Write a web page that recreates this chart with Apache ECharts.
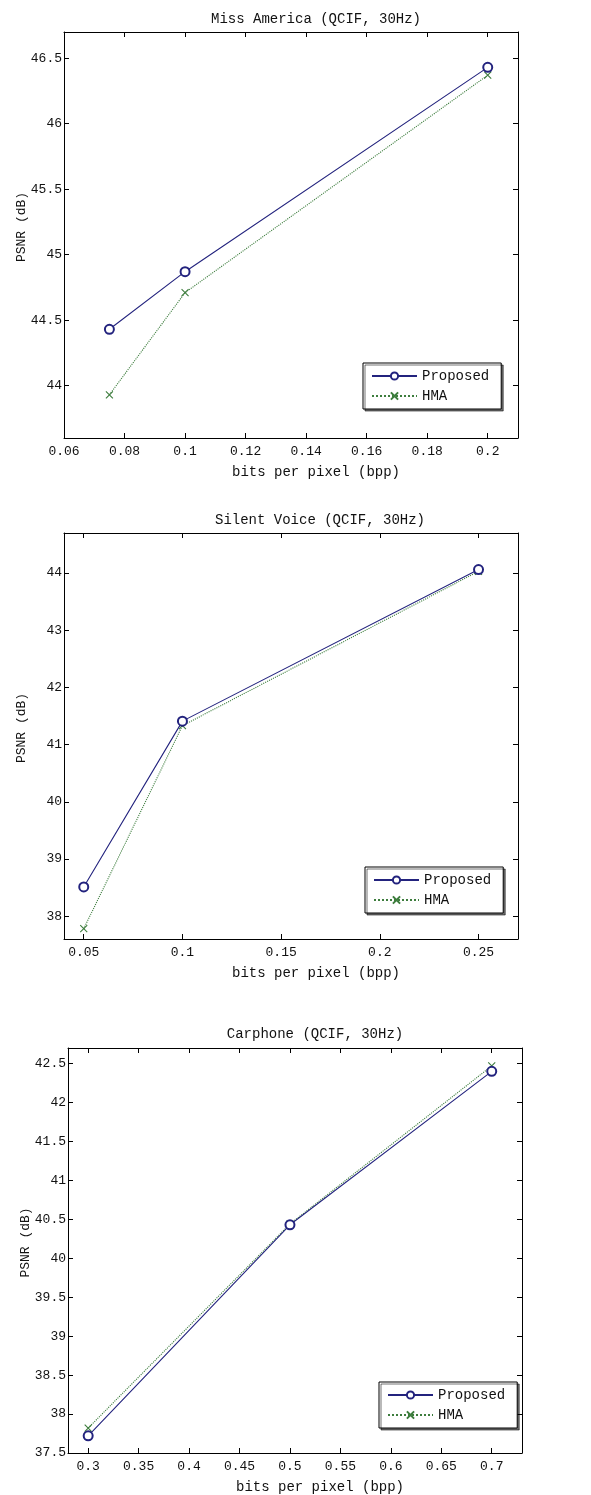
<!DOCTYPE html>
<html>
<head>
<meta charset="utf-8">
<script src="https://cdn.jsdelivr.net/npm/echarts@6/dist/echarts.min.js"></script>
<style>
html,body{margin:0;padding:0;background:#fff;}
#chart{width:591px;height:1495px;}
</style>
</head>
<body>
<div id="chart"></div>
<script>
// ---- data ----
const seriesNames = ['Proposed', 'HMA'];
const titles = ['Miss America (QCIF, 30Hz)', 'Silent Voice (QCIF, 30Hz)', 'Carphone (QCIF, 30Hz)'];
const xLabelName = 'bits per pixel (bpp)';
const yLabelName = 'PSNR (dB)';

const xMiss = [0.075, 0.1, 0.2];
const proposedMiss = [44.43, 44.87, 46.43];
const hmaMiss = [43.93, 44.71, 46.37];

const xSilent = [0.05, 0.1, 0.25];
const proposedSilent = [38.51, 41.41, 44.06];
const hmaSilent = [37.78, 41.33, 44.03];

const xCar = [0.3, 0.5, 0.7];
const proposedCar = [37.72, 40.43, 42.40];
const hmaCar = [37.82, 40.44, 42.47];

const xTicksMiss = [0.06, 0.08, 0.1, 0.12, 0.14, 0.16, 0.18, 0.2];
const yTicksMiss = [44, 44.5, 45, 45.5, 46, 46.5];
const xTicksSilent = [0.05, 0.1, 0.15, 0.2, 0.25];
const yTicksSilent = [38, 39, 40, 41, 42, 43, 44];
const xTicksCar = [0.3, 0.35, 0.4, 0.45, 0.5, 0.55, 0.6, 0.65, 0.7];
const yTicksCar = [37.5, 38, 38.5, 39, 39.5, 40, 40.5, 41, 41.5, 42, 42.5];

// ---- layout / style ----
const FONT = '"Liberation Mono", "DejaVu Sans Mono", monospace';
const TXT = '#111';
const BLUE = '#23237e';
const GREEN = '#3d7d3d';
const XMARK = 'path://M0,0L10,10M0,10L10,0';

const panels = [
  {grid:{left:64, top:32, width:454, height:406}, xMin:0.06, xMax:0.21, yMin:43.6, yMax:46.7,
   xT:xTicksMiss, yT:yTicksMiss, x:xMiss, p:proposedMiss, h:hmaMiss, titleX:311, titleY:7,
   legend:{left:363, top:363}},
  {grid:{left:64, top:533, width:454, height:406}, xMin:0.04, xMax:0.27, yMin:37.6, yMax:44.7,
   xT:xTicksSilent, yT:yTicksSilent, x:xSilent, p:proposedSilent, h:hmaSilent, titleX:315, titleY:508,
   legend:{left:365, top:867}},
  {grid:{left:68, top:1048, width:454, height:405}, xMin:0.28, xMax:0.73, yMin:37.5, yMax:42.7,
   xT:xTicksCar, yT:yTicksCar, x:xCar, p:proposedCar, h:hmaCar, titleX:310, titleY:1022,
   legend:{left:379, top:1382}}
];

const grid = [], xAxis = [], yAxis = [], series = [], title = [], legend = [];
const axisLine = {show:true, onZero:false, lineStyle:{color:'#000', width:1}};

panels.forEach((pn, i) => {
  grid.push(Object.assign({outerBoundsMode:'none', containLabel:false}, pn.grid));
  title.push({text: titles[i], left: pn.titleX, top: pn.titleY, textAlign: 'center',
    textStyle:{fontFamily: FONT, fontSize: 14, fontWeight: 'normal', color: TXT}});
  // bottom x
  xAxis.push({type:'value', gridIndex:i, position:'bottom', min:pn.xMin, max:pn.xMax,
    axisLine, splitLine:{show:false},
    axisTick:{show:true, inside:true, length:5, customValues: pn.xT, lineStyle:{color:'#000'}},
    axisLabel:{show:true, customValues: pn.xT, margin:7, fontFamily:FONT, fontSize:13, color:TXT},
    name: xLabelName, nameLocation:'middle', nameGap:27, nameMoveOverlap:false,
    nameTextStyle:{fontFamily:FONT, fontSize:14, color:TXT, padding:[0,0,0,50]}});
  // top x
  xAxis.push({type:'value', gridIndex:i, position:'top', min:pn.xMin, max:pn.xMax,
    axisLine, splitLine:{show:false},
    axisTick:{show:true, inside:true, length:5, customValues: pn.xT, lineStyle:{color:'#000'}},
    axisLabel:{show:false}});
  // left y
  yAxis.push({type:'value', gridIndex:i, position:'left', min:pn.yMin, max:pn.yMax,
    axisLine, splitLine:{show:false},
    axisTick:{show:true, inside:true, length:5, customValues: pn.yT, lineStyle:{color:'#000'}},
    axisLabel:{show:true, customValues: pn.yT, margin:2, fontFamily:FONT, fontSize:13, color:TXT},
    name: yLabelName, nameLocation:'middle', nameGap:36, nameMoveOverlap:false,
    nameTextStyle:{fontFamily:FONT, fontSize:13, color:TXT, padding:[0,0,0,16]}});
  // right y
  yAxis.push({type:'value', gridIndex:i, position:'right', min:pn.yMin, max:pn.yMax,
    axisLine, splitLine:{show:false},
    axisTick:{show:true, inside:true, length:5, customValues: pn.yT, lineStyle:{color:'#000'}},
    axisLabel:{show:false}});

  series.push({name: seriesNames[0], type:'line', xAxisIndex: 2*i, yAxisIndex: 2*i,
    data: pn.x.map((v, k) => [v, pn.p[k]]),
    symbol:'emptyCircle', symbolSize:9, showAllSymbol:true,
    lineStyle:{color:BLUE, width:1.1, type:'solid'},
    itemStyle:{color:BLUE, borderColor:BLUE, borderWidth:1.1},
    emphasis:{disabled:true}, z:3});
  series.push({name: seriesNames[1], type:'line', xAxisIndex: 2*i, yAxisIndex: 2*i,
    data: pn.x.map((v, k) => [v, pn.h[k]]),
    symbol: XMARK, symbolSize:7, showAllSymbol:true,
    lineStyle:{color:GREEN, width:1.1, type:'dotted'},
    itemStyle:{color:GREEN, borderColor:GREEN, borderWidth:1.1},
    emphasis:{disabled:true}, z:2});

  legend.push({data: seriesNames, left: pn.legend.left, top: pn.legend.top, orient:'vertical',
    padding:[6,12,6,8], itemWidth:45, itemHeight:9, itemGap:6,
    backgroundColor:'#fff', borderColor:'#000', borderWidth:1,
    shadowColor:'rgba(0,0,0,0.55)', shadowOffsetX:2, shadowOffsetY:2, shadowBlur:0,
    textStyle:{fontFamily:FONT, fontSize:14, color:TXT}, selectedMode:false});
});

const chart = echarts.init(document.getElementById('chart'), null, {renderer:'canvas'});
chart.setOption({animation:false, backgroundColor:'#fff', title, grid, xAxis, yAxis, series, legend});
</script>
</body>
</html>
